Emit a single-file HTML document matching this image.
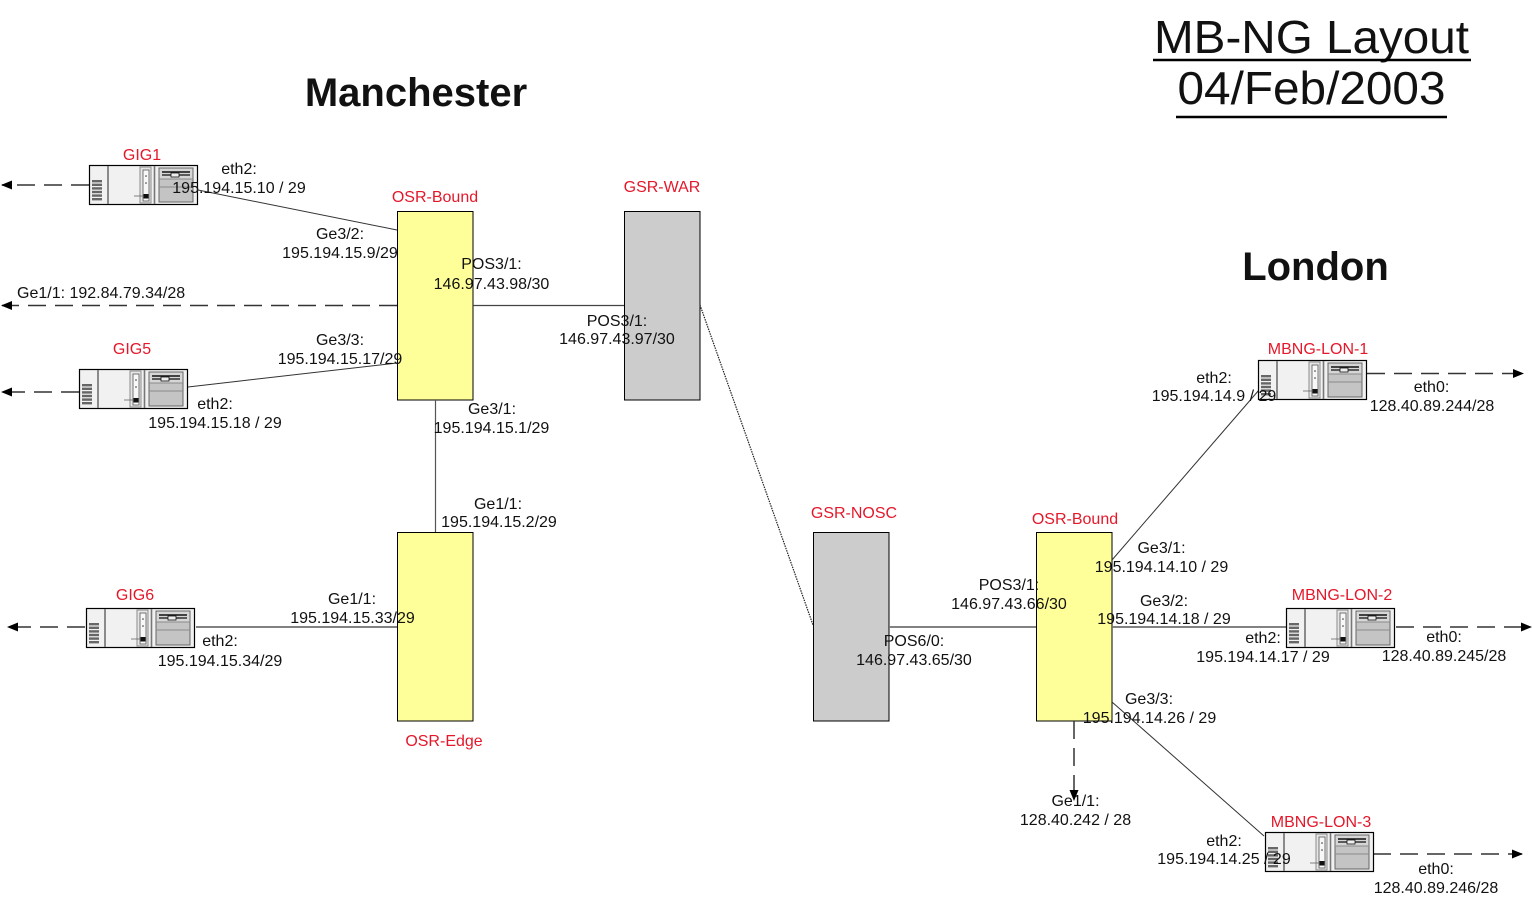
<!DOCTYPE html>
<html><head><meta charset="utf-8"><style>
html,body{margin:0;padding:0;background:#fff;}
svg{display:block;}
text{font-family:"Liberation Sans",Arial,sans-serif;font-size:16px;fill:#111;}
.r{fill:#e4182a;}
</style></head><body>
<svg width="1532" height="898" viewBox="0 0 1532 898" xmlns="http://www.w3.org/2000/svg">
<defs>
<marker id="ah" markerWidth="11" markerHeight="10" refX="10" refY="4.5" orient="auto" markerUnits="userSpaceOnUse">
<path d="M0,0 L11,4.5 L0,9 z" fill="#000"/>
</marker>
<g id="srv">
<rect x="0.5" y="0.5" width="108" height="39" fill="#f1f1f1" stroke="#000" stroke-width="1.2"/>
<g fill="#666">
<rect x="3" y="15" width="10" height="2.4"/><rect x="3" y="18.6" width="10" height="2.4"/><rect x="3" y="22.2" width="10" height="2.4"/><rect x="3" y="25.8" width="10" height="2.4"/><rect x="3" y="29.4" width="10" height="2.4"/><rect x="3" y="33" width="10" height="2.4"/>
</g>
<line x1="19" y1="1" x2="19" y2="39" stroke="#8a8a8a" stroke-width="2"/>
<rect x="51" y="2" width="11" height="36" fill="#e6e6e6" stroke="#8a8a8a" stroke-width="1"/>
<rect x="54" y="5" width="6" height="31" fill="#f8f8f8" stroke="#555" stroke-width="0.8"/>
<circle cx="57" cy="11" r="0.8" fill="#333"/><circle cx="57" cy="18" r="0.8" fill="#333"/>
<rect x="54.5" y="29" width="5" height="4.5" fill="#111"/>
<line x1="45" y1="31" x2="54" y2="31" stroke="#666" stroke-width="0.8"/>
<line x1="65.5" y1="1" x2="65.5" y2="39" stroke="#777" stroke-width="1.6"/>
<rect x="70" y="3" width="34" height="34" fill="#c4c4c4" stroke="#666" stroke-width="1"/>
<rect x="70.5" y="3.5" width="33" height="10" fill="#d6d6d6"/>
<line x1="73" y1="7" x2="101" y2="7" stroke="#111" stroke-width="1.5"/>
<line x1="73" y1="10" x2="101" y2="10" stroke="#111" stroke-width="1.2"/>
<rect x="82" y="8" width="8" height="4" fill="#eee" stroke="#111" stroke-width="0.8"/>
<line x1="70" y1="14" x2="104" y2="14" stroke="#8a8a8a" stroke-width="1"/>
<line x1="70" y1="22" x2="104" y2="22" stroke="#8a8a8a" stroke-width="1"/>
</g>
</defs>

<!-- Title -->
<text x="1311.5" y="53" text-anchor="middle" textLength="315" lengthAdjust="spacingAndGlyphs" style="font-size:46px">MB-NG Layout</text>
<line x1="1153" y1="60" x2="1471" y2="60" stroke="#000" stroke-width="2.5"/>
<text x="1311.5" y="104" text-anchor="middle" textLength="268" lengthAdjust="spacingAndGlyphs" style="font-size:46px">04/Feb/2003</text>
<line x1="1176" y1="117" x2="1447" y2="117" stroke="#000" stroke-width="2.5"/>

<text x="416" y="106" text-anchor="middle" style="font-size:40px;font-weight:bold">Manchester</text>
<text x="1315.5" y="280" text-anchor="middle" style="font-size:40px;font-weight:bold">London</text>

<!-- Boxes -->
<rect x="397.5" y="211.5" width="75.5" height="188.5" fill="#ffff99" stroke="#000" stroke-width="1"/>
<rect x="624.5" y="211.5" width="75.5" height="188.5" fill="#cccccc" stroke="#000" stroke-width="1"/>
<rect x="397.5" y="532.5" width="75.5" height="188.5" fill="#ffff99" stroke="#000" stroke-width="1"/>
<rect x="813.5" y="532.5" width="75.5" height="188.5" fill="#cccccc" stroke="#000" stroke-width="1"/>
<rect x="1036.5" y="532.5" width="75.5" height="188.5" fill="#ffff99" stroke="#000" stroke-width="1"/>

<!-- Links -->
<line x1="198" y1="190" x2="397" y2="230" stroke="#333" stroke-width="1"/>
<line x1="188" y1="387" x2="397" y2="363" stroke="#333" stroke-width="1"/>
<line x1="473" y1="305.5" x2="624" y2="305.5" stroke="#444" stroke-width="1.2"/>
<line x1="435.5" y1="400" x2="435.5" y2="532" stroke="#555" stroke-width="1.2"/>
<line x1="700" y1="305" x2="813" y2="625" stroke="#222" stroke-width="1.2" stroke-dasharray="1.5 1"/>
<line x1="196" y1="627" x2="397" y2="627" stroke="#707070" stroke-width="1.8"/>
<line x1="889" y1="627" x2="1036" y2="627" stroke="#707070" stroke-width="1.8"/>
<line x1="1112" y1="627" x2="1286" y2="627" stroke="#707070" stroke-width="1.8"/>
<line x1="1112" y1="560" x2="1259" y2="390" stroke="#333" stroke-width="1"/>
<line x1="1112" y1="702" x2="1264" y2="836" stroke="#333" stroke-width="1"/>

<!-- Dashed arrows -->
<g stroke="#333" stroke-width="1.5" stroke-dasharray="18 9" fill="none">
<line x1="89" y1="185" x2="2" y2="185" marker-end="url(#ah)"/>
<line x1="397" y1="305.5" x2="2" y2="305.5" marker-end="url(#ah)"/>
<line x1="79" y1="392" x2="2" y2="392" marker-end="url(#ah)"/>
<line x1="85" y1="627" x2="8" y2="627" marker-end="url(#ah)"/>
<line x1="1074" y1="721" x2="1074" y2="800" marker-end="url(#ah)"/>
<line x1="1367" y1="373.5" x2="1523" y2="373.5" marker-end="url(#ah)"/>
<line x1="1396" y1="627" x2="1531" y2="627" marker-end="url(#ah)"/>
<line x1="1373" y1="854" x2="1522" y2="854" marker-end="url(#ah)"/>
</g>

<!-- Servers -->
<use href="#srv" x="89" y="165"/>
<use href="#srv" x="79" y="369"/>
<use href="#srv" x="86" y="608"/>
<use href="#srv" x="1258" y="360"/>
<use href="#srv" x="1286" y="608"/>
<use href="#srv" x="1265" y="832"/>

<!-- Red labels -->
<g text-anchor="middle">
<text class="r" x="142" y="160">GIG1</text>
<text class="r" x="132" y="354">GIG5</text>
<text class="r" x="135" y="600">GIG6</text>
<text class="r" x="435" y="202">OSR-Bound</text>
<text class="r" x="662" y="192">GSR-WAR</text>
<text class="r" x="444" y="746">OSR-Edge</text>
<text class="r" x="854" y="518">GSR-NOSC</text>
<text class="r" x="1075" y="524">OSR-Bound</text>
<text class="r" x="1318" y="354">MBNG-LON-1</text>
<text class="r" x="1342" y="600">MBNG-LON-2</text>
<text class="r" x="1321" y="827">MBNG-LON-3</text>

<!-- Interface labels -->
<text x="239" y="174">eth2:</text>
<text x="239" y="193">195.194.15.10 / 29</text>
<text x="340" y="239">Ge3/2:</text>
<text x="340" y="258">195.194.15.9/29</text>
<text x="340" y="345">Ge3/3:</text>
<text x="340" y="364">195.194.15.17/29</text>
<text x="215" y="409">eth2:</text>
<text x="215" y="428">195.194.15.18 / 29</text>
<text x="491.5" y="269">POS3/1:</text>
<text x="491.5" y="289">146.97.43.98/30</text>
<text x="617" y="326">POS3/1:</text>
<text x="617" y="344">146.97.43.97/30</text>
<text x="492" y="414">Ge3/1:</text>
<text x="491.5" y="433">195.194.15.1/29</text>
<text x="498" y="509">Ge1/1:</text>
<text x="499" y="527">195.194.15.2/29</text>
<text x="352" y="604">Ge1/1:</text>
<text x="352.5" y="623">195.194.15.33/29</text>
<text x="220" y="646">eth2:</text>
<text x="220" y="666">195.194.15.34/29</text>
<text x="1009" y="590">POS3/1:</text>
<text x="1009" y="609">146.97.43.66/30</text>
<text x="914" y="646">POS6/0:</text>
<text x="914" y="665">146.97.43.65/30</text>
<text x="1161.5" y="553">Ge3/1:</text>
<text x="1161.5" y="572">195.194.14.10 / 29</text>
<text x="1164" y="606">Ge3/2:</text>
<text x="1164" y="624">195.194.14.18 / 29</text>
<text x="1149" y="704">Ge3/3:</text>
<text x="1149.5" y="723">195.194.14.26 / 29</text>
<text x="1075.5" y="806">Ge1/1:</text>
<text x="1075.5" y="825">128.40.242 / 28</text>
<text x="1214" y="383">eth2:</text>
<text x="1214" y="401">195.194.14.9 / 29</text>
<text x="1431.5" y="392">eth0:</text>
<text x="1432" y="411">128.40.89.244/28</text>
<text x="1263" y="643">eth2:</text>
<text x="1263" y="662">195.194.14.17 / 29</text>
<text x="1444" y="642">eth0:</text>
<text x="1444" y="661">128.40.89.245/28</text>
<text x="1224" y="846">eth2:</text>
<text x="1224" y="864">195.194.14.25 / 29</text>
<text x="1436" y="874">eth0:</text>
<text x="1436" y="893">128.40.89.246/28</text>
</g>
<text x="17" y="298">Ge1/1: 192.84.79.34/28</text>
</svg>
</body></html>
